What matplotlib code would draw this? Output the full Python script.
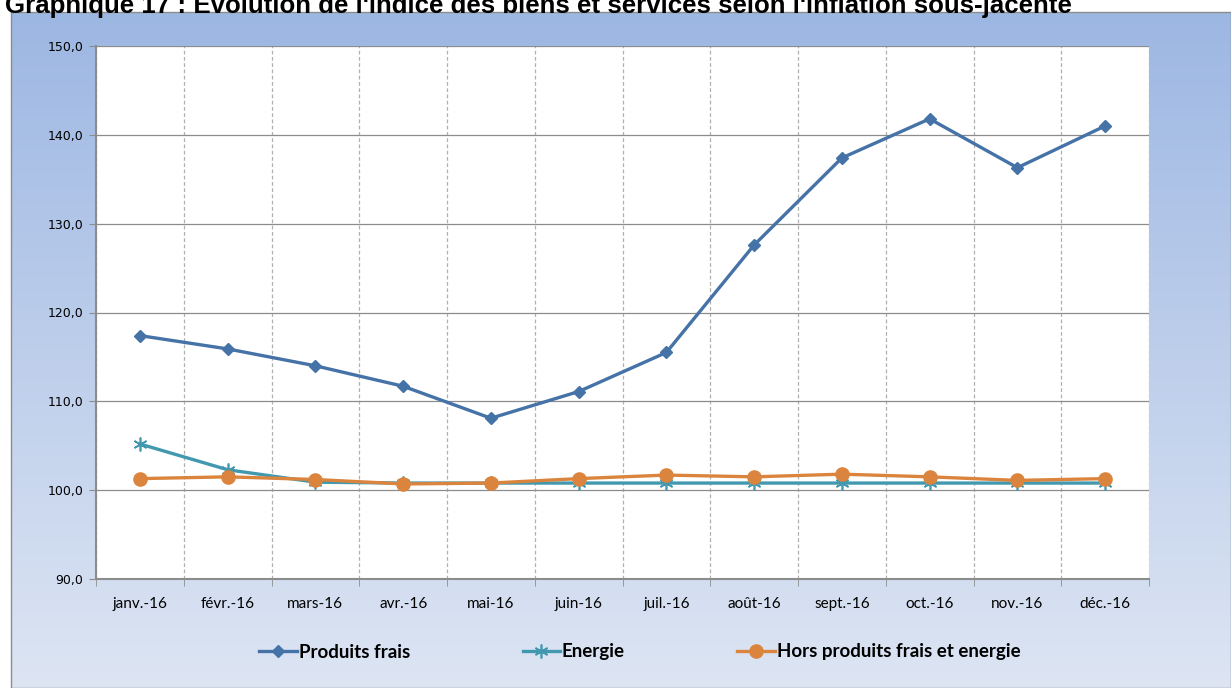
import numpy as np
import matplotlib
matplotlib.use("Agg")
import matplotlib.pyplot as plt
from matplotlib.ticker import FuncFormatter, FixedLocator

mois = ["janv.-16", "févr.-16", "mars-16", "avr.-16", "mai-16", "juin-16",
        "juil.-16", "août-16", "sept.-16", "oct.-16", "nov.-16", "déc.-16"]
produits_frais = [117.4, 115.9, 114.0, 111.7, 108.1, 111.1,
                  115.5, 127.6, 137.4, 141.8, 136.3, 141.0]
energie = [105.2, 102.3, 100.9, 100.8, 100.8, 100.8,
           100.8, 100.8, 100.8, 100.8, 100.8, 100.8]
hors_pf_energie = [101.3, 101.5, 101.2, 100.7, 100.8, 101.3,
                   101.7, 101.5, 101.8, 101.5, 101.1, 101.3]

W, H = 1231, 688
fig = plt.figure(figsize=(W / 100, H / 100), dpi=100)

# fond degrade du cadre
bg = fig.add_axes([11 / W, 0, 1 - 11 / W, (H - 12) / H])
grad = np.linspace(0, 1, 256).reshape(-1, 1)
top_c = np.array([0x9d, 0xb7, 0xe3]) / 255
bot_c = np.array([0xdd, 0xe5, 0xf3]) / 255
img = top_c[None, None, :] * (1 - grad[:, :, None]) + bot_c[None, None, :] * grad[:, :, None]
bg.imshow(img, aspect="auto", extent=[0, 1, 0, 1])
bg.set_xticks([])
bg.set_yticks([])
for s in bg.spines.values():
    s.set_color("#8c8c8c")
    s.set_linewidth(1.0)

fig.text(5 / W, 675 / H,
         "Graphique 17 : Evolution de l'indice des biens et services selon l'inflation sous-jacente",
         fontsize=18.6, fontweight="bold", family="Liberation Sans",
         ha="left", va="baseline")

ax = fig.add_axes([96 / W, (H - 579) / H, (1149 - 96) / W, (579 - 46) / H])
ax.set_facecolor("white")
x = np.arange(len(mois))

ax.plot(x, produits_frais, color="#4572a7", lw=2.4, marker="D", ms=6,
        label="Produits frais", zorder=3)
ax.plot(x, energie, color="#4198af", lw=2.4, marker=(6, 2, 0), ms=10, mew=1.2,
        label="Energie", zorder=3)
ax.plot(x, hors_pf_energie, color="#db843d", lw=2.4, marker="o", ms=9.5,
        label="Hors produits frais et energie", zorder=4)

ax.set_xlim(-0.5, len(mois) - 0.5)
ax.set_ylim(90, 150)
ax.set_yticks(np.arange(90, 151, 10))
ax.yaxis.set_major_formatter(FuncFormatter(lambda v, p: f"{v:.1f}".replace(".", ",")))
ax.grid(axis="y", color="#8c8c8c", lw=0.9)

ax.set_xticks(x)
ax.set_xticklabels(mois, family="Lato", fontsize=11)
ax.xaxis.set_minor_locator(FixedLocator(np.arange(-0.5, len(mois), 1.0)))
ax.tick_params(axis="x", which="major", length=0, pad=13)
ax.tick_params(axis="x", which="minor", length=5, color="#8c8c8c", direction="out")
ax.grid(axis="x", which="minor", color="#b0b0b0", lw=0.9, ls=(0, (3, 2)))
ax.tick_params(axis="y", length=5, color="#8c8c8c", labelsize=9, pad=4)
ax.set_axisbelow(True)

ax.spines["top"].set_visible(False)
ax.spines["right"].set_visible(False)
ax.spines["left"].set_color("#8c8c8c")
ax.spines["bottom"].set_color("#8c8c8c")
ax.spines["left"].set_linewidth(1.5)
ax.spines["bottom"].set_linewidth(1.5)

leg = fig.legend(loc="center", bbox_to_anchor=(640 / W, (H - 652) / H), ncol=3,
                 frameon=False, handlelength=2.0, handletextpad=0.1,
                 columnspacing=6.0, prop={"family": "Lato", "weight": "bold", "size": 13.5})

fig.savefig("out.png", dpi=100)
